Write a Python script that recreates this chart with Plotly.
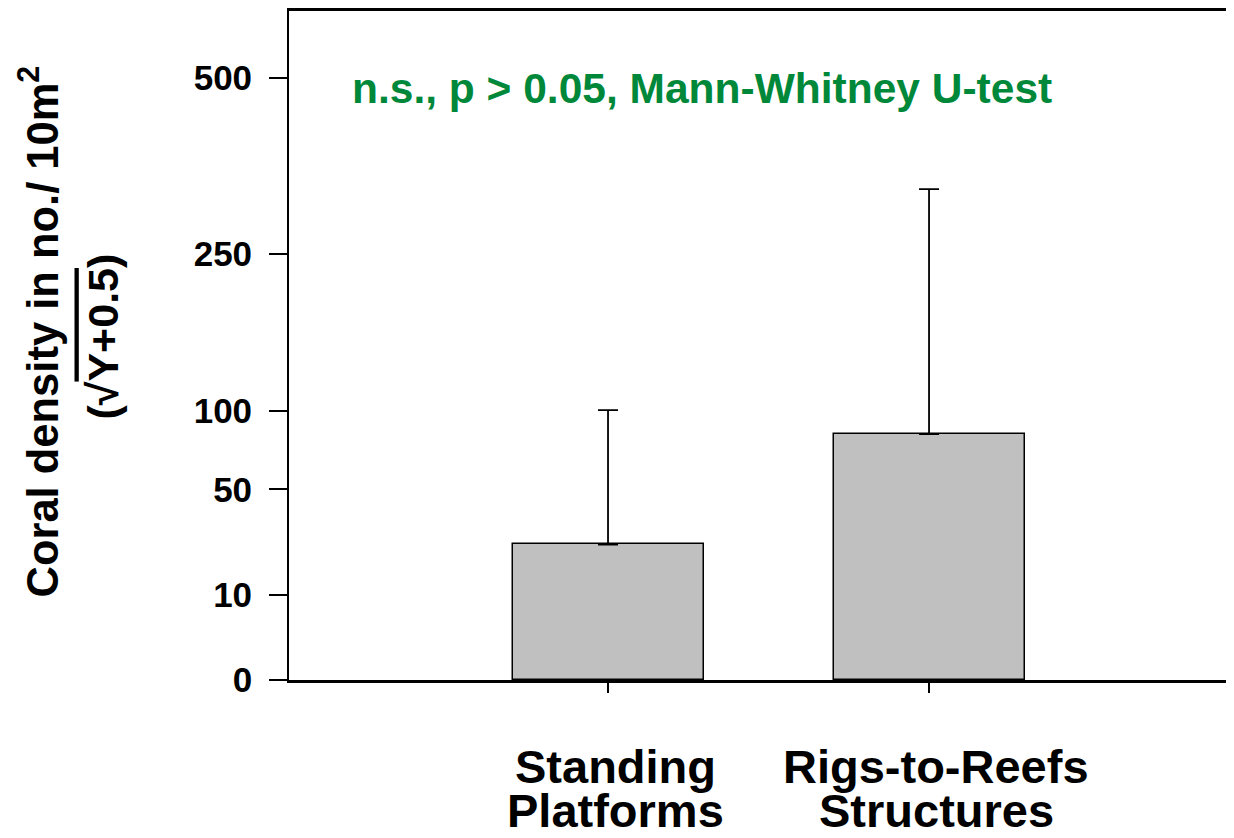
import numpy as np
import plotly.graph_objects as go

categories = ["Standing Platforms", "Rigs-to-Reefs Structures"]
cat_line1 = ["Standing", "Rigs-to-Reefs"]
cat_line2 = ["Platforms", "Structures"]
means = [25.3, 83.3]          # coral density, no./10 m2
upper = [100.3, 332.0]        # mean + error (upper end of error bar)
tick_values = [0, 10, 50, 100, 250, 500]
tick_labels = ["0", "10", "50", "100", "250", "500"]

FONT = "Liberation Sans, Arial, sans-serif"

x_pos = np.arange(len(categories))
y_t = np.sqrt(np.array(means))
err_up = np.sqrt(np.array(upper)) - y_t

fig = go.Figure()
fig.add_trace(go.Bar(
    x=x_pos, y=y_t, width=0.595,
    marker=dict(color="#c0c0c0", line=dict(color="black", width=1.5)),
    error_y=dict(type="data", symmetric=False, array=err_up,
                 arrayminus=[0] * len(categories),
                 color="black", thickness=1.8, width=10),
    hovertext=categories,
))

annotations = []
for i in range(len(categories)):
    annotations.append(dict(x=x_pos[i], y=0, xref="x", yref="y",
                            text="<b>%s</b>" % cat_line1[i], showarrow=False,
                            xanchor="center", yanchor="middle", xshift=7, yshift=-86,
                            font=dict(family=FONT, size=47, color="black")))
    annotations.append(dict(x=x_pos[i], y=0, xref="x", yref="y",
                            text="<b>%s</b>" % cat_line2[i], showarrow=False,
                            xanchor="center", yanchor="middle", xshift=7, yshift=-130,
                            font=dict(family=FONT, size=47, color="black")))

annotations.append(dict(x=0, y=1, xref="paper", yref="paper",
                        text="<b>n.s., p > 0.05, Mann-Whitney U-test</b>",
                        showarrow=False, xanchor="left", yanchor="middle",
                        xshift=61, yshift=-77,
                        font=dict(family=FONT, size=42.5, color="#00883a")))
annotations.append(dict(x=0, y=0.5, xref="paper", yref="paper",
                        text="<b>Coral density in no./ 10m<sup>2</sup></b>",
                        showarrow=False, textangle=-90, xanchor="center", yanchor="middle",
                        xshift=-250, yshift=14,
                        font=dict(family=FONT, size=43.5, color="black")))
annotations.append(dict(x=0, y=0.5, xref="paper", yref="paper",
                        text="<b>(√<span style='text-decoration:overline'>Y+0.5</span>)</b>",
                        showarrow=False, textangle=-90, xanchor="center", yanchor="middle",
                        xshift=-187, yshift=9,
                        font=dict(family=FONT, size=43, color="black")))

fig.update_layout(
    width=1226, height=830,
    margin=dict(l=281, r=0, t=0, b=158),
    plot_bgcolor="white", paper_bgcolor="white",
    showlegend=False,
    bargap=0,
    annotations=annotations,
    xaxis=dict(range=[-0.9938, 1.95], tickvals=list(x_pos), showticklabels=False,
               ticks="outside", ticklen=10, tickwidth=1.5, tickcolor="black",
               showline=True, linecolor="black", linewidth=2.5, mirror=True,
               showgrid=False, zeroline=False),
    yaxis=dict(range=[0, 24.83], tickvals=list(np.sqrt(tick_values)), ticktext=tick_labels,
               ticks="outside", ticklen=18, tickwidth=1.5, tickcolor="black",
               showline=True, linecolor="black", linewidth=1.8,
               showgrid=False, zeroline=False, ticklabelstandoff=10,
               tickfont=dict(family=FONT, size=35, color="black", weight="bold")),
)

fig.write_html("out.html")
